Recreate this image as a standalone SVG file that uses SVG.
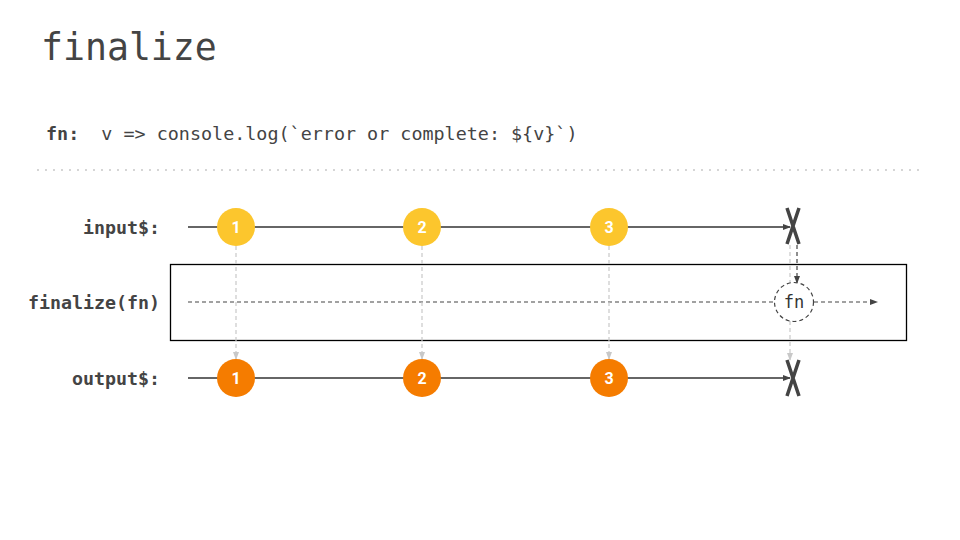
<svg xmlns="http://www.w3.org/2000/svg" width="960" height="540" viewBox="0 0 960 540">
<style>
.mono{font-family:"DejaVu Sans Mono","Liberation Mono",monospace;fill:#444}
.lbl{font-family:"DejaVu Sans Mono","Liberation Mono",monospace;font-weight:bold;font-size:18.3px;fill:#444;text-anchor:end}
.mtxt{font-family:"Roboto","DejaVu Sans",sans-serif;font-weight:bold;font-size:16px;fill:#fff;text-anchor:middle}
.tl{stroke:#333;stroke-width:1.3;fill:none}
.dash{stroke:#444;stroke-width:1.2;stroke-dasharray:4 3;fill:none}
.gdash{stroke:#c8c8c8;stroke-width:1.2;stroke-dasharray:4 3;fill:none}
.xmark{stroke:#444;stroke-width:3.5;fill:none}
.yel{fill:#fcc62d}
.org{fill:#f57c00}
</style>
<defs>
<marker id="ah" markerWidth="8" markerHeight="8" refX="7" refY="4" orient="auto" markerUnits="userSpaceOnUse">
<path d="M0,1 L8,4 L0,7 Z" fill="#444"/>
</marker>
<marker id="ahg" markerWidth="8" markerHeight="8" refX="7" refY="4" orient="auto" markerUnits="userSpaceOnUse">
<path d="M0,1 L8,4 L0,7 Z" fill="#c8c8c8"/>
</marker>
</defs>
<rect width="960" height="540" fill="#fff"/>
<text class="mono" x="41" y="60" font-size="36.5" font-weight="300">finalize</text>
<text class="mono" x="46" y="140" font-size="18.4" xml:space="preserve"><tspan font-weight="bold">fn:</tspan>  v =&gt; console.log(`error or complete: ${v}`)</text>
<line x1="38" y1="170" x2="920" y2="170" stroke="#c8c8c8" stroke-width="2" stroke-linecap="round" stroke-dasharray="0 8"/>

<g id="labels">
<text class="lbl" x="160" y="234">input$:</text>
<text class="lbl" x="160" y="309">finalize(fn)</text>
<text class="lbl" x="160" y="385">output$:</text>
</g>

<g id="operator-box">
<rect x="170.5" y="264.5" width="736" height="76" fill="none" stroke="#000" stroke-width="1.3"/>
</g>

<g id="connectors">
<line class="tl" x1="188" y1="227" x2="790" y2="227" marker-end="url(#ah)"/>
<line class="tl" x1="188" y1="378" x2="790" y2="378" marker-end="url(#ah)"/>
<line class="dash" x1="188" y1="302" x2="774" y2="302"/>
<line class="dash" x1="814" y1="302" x2="877" y2="302" marker-end="url(#ah)"/>
<line class="gdash" x1="236" y1="246" x2="236" y2="359" marker-end="url(#ahg)"/>
<line class="gdash" x1="422" y1="246" x2="422" y2="359" marker-end="url(#ahg)"/>
<line class="gdash" x1="609" y1="246" x2="609" y2="359" marker-end="url(#ahg)"/>
<line class="gdash" x1="790" y1="245" x2="790" y2="284"/>
<line class="dash" x1="797" y1="245" x2="797" y2="283" marker-end="url(#ah)"/>
<line class="gdash" x1="790" y1="321" x2="790" y2="360" marker-end="url(#ahg)"/>
</g>

<g id="input-1"><circle class="yel" cx="236" cy="227" r="19"/><text class="mtxt" x="236" y="233">1</text></g>
<g id="input-2"><circle class="yel" cx="422" cy="227" r="19"/><text class="mtxt" x="422" y="233">2</text></g>
<g id="input-3"><circle class="yel" cx="609" cy="227" r="19"/><text class="mtxt" x="609" y="233">3</text></g>
<g id="input-error"><path class="xmark" d="M787,208 L799,244 M799,208 L787,244"/></g>

<g id="fn-node">
<circle cx="794" cy="302" r="19.5" fill="#fff" stroke="#444" stroke-width="1.2" stroke-dasharray="4 3"/>
<text x="794" y="308" font-family="'DejaVu Sans Mono',monospace" font-size="17" fill="#333" text-anchor="middle">fn</text>
</g>

<g id="output-1"><circle class="org" cx="236" cy="378" r="19"/><text class="mtxt" x="236" y="384">1</text></g>
<g id="output-2"><circle class="org" cx="422" cy="378" r="19"/><text class="mtxt" x="422" y="384">2</text></g>
<g id="output-3"><circle class="org" cx="609" cy="378" r="19"/><text class="mtxt" x="609" y="384">3</text></g>
<g id="output-error"><path class="xmark" d="M787,360 L799,396 M799,360 L787,396"/></g>
</svg>
